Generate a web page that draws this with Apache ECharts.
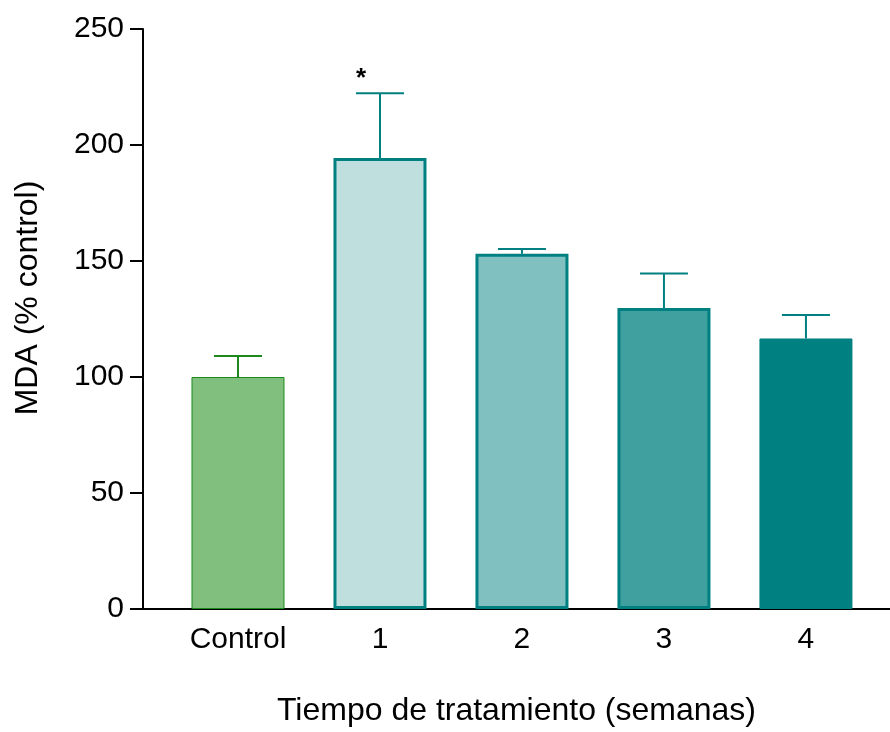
<!DOCTYPE html>
<html>
<head>
<meta charset="utf-8">
<script src="https://cdn.jsdelivr.net/npm/echarts@6/dist/echarts.min.js"></script>
<style>
  html, body { margin: 0; padding: 0; background: #ffffff; }
  #chart { width: 890px; height: 732px; }
</style>
</head>
<body>
<div id="chart"></div>
<script>
// MDA levels relative to control, per treatment week
const categories = ['Control', '1', '2', '3', '4'];
const means = [100, 194.4, 153.1, 129.7, 116.6];
const upperErrors = [109.0, 222.3, 155.2, 144.6, 126.7];
const marks = ['', '*', '', '', ''];
const yTicks = [0, 50, 100, 150, 200, 250];

const fillColors = ['#80bf7d', '#bfdfdf', '#80c0c0', '#40a0a0', '#008080'];
const edgeColors = ['#1b8a1b', '#008080', '#008080', '#008080', '#008080'];
const edgeWidths = [1, 3, 3, 3, 1];

const FONT = '"Liberation Sans", Arial, sans-serif';

const barData = means.map((v, i) => ({
  value: [i, v],
  itemStyle: { color: fillColors[i], borderColor: edgeColors[i], borderWidth: edgeWidths[i] }
}));

const errData = means.map((v, i) => [i, v, upperErrors[i]]);

const chart = echarts.init(document.getElementById('chart'), null, { renderer: 'canvas' });
chart.setOption({
  animation: false,
  backgroundColor: '#ffffff',
  grid: { left: 143, right: 0, top: 29, bottom: 123, containLabel: false },
  xAxis: {
    type: 'value',
    min: -0.669,
    max: 4.592,
    splitLine: { show: false },
    axisLine: { show: true, lineStyle: { color: '#000', width: 2 } },
    axisTick: { show: false },
    axisLabel: {
      customValues: [0, 1, 2, 3, 4],
      formatter: v => categories[Math.round(v)],
      fontFamily: FONT, fontSize: 30, color: '#000', margin: 16
    },
    name: 'Tiempo de tratamiento (semanas)',
    nameLocation: 'middle',
    nameGap: 86,
    nameTextStyle: { fontFamily: FONT, fontSize: 32, color: '#000' }
  },
  yAxis: {
    type: 'value',
    min: 0,
    max: 250,
    interval: 50,
    splitLine: { show: false },
    axisLine: { show: true, onZero: false, lineStyle: { color: '#000', width: 2 } },
    axisTick: { show: true, length: 13, lineStyle: { color: '#000', width: 2 } },
    axisLabel: {
      customValues: yTicks,
      fontFamily: FONT, fontSize: 30, color: '#000', margin: 19
    },
    name: 'MDA (% control)',
    nameLocation: 'middle',
    nameGap: 99,
    nameTextStyle: { fontFamily: FONT, fontSize: 32, color: '#000', padding: [0, 0, 0, 42] }
  },
  series: [
    {
      type: 'bar',
      barWidth: 93,
      data: barData,
      z: 2
    },
    {
      type: 'custom',
      z: 3,
      data: errData,
      renderItem: function (params, api) {
        const i = api.value(0);
        const base = api.coord([i, api.value(1)]);
        const top = api.coord([i, api.value(2)]);
        const color = edgeColors[i];
        const half = 24;
        const children = [
          { type: 'line', shape: { x1: base[0], y1: base[1], x2: top[0], y2: top[1] },
            style: { stroke: color, lineWidth: 2 } },
          { type: 'line', shape: { x1: top[0] - half, y1: top[1], x2: top[0] + half, y2: top[1] },
            style: { stroke: color, lineWidth: 2 } }
        ];
        if (marks[i]) {
          children.push({
            type: 'text',
            style: {
              x: top[0] - 19, y: top[1] - 14, text: marks[i],
              fill: '#000', font: 'bold 26px ' + FONT,
              align: 'center', verticalAlign: 'middle'
            }
          });
        }
        return { type: 'group', children: children };
      }
    }
  ]
});
</script>
</body>
</html>
